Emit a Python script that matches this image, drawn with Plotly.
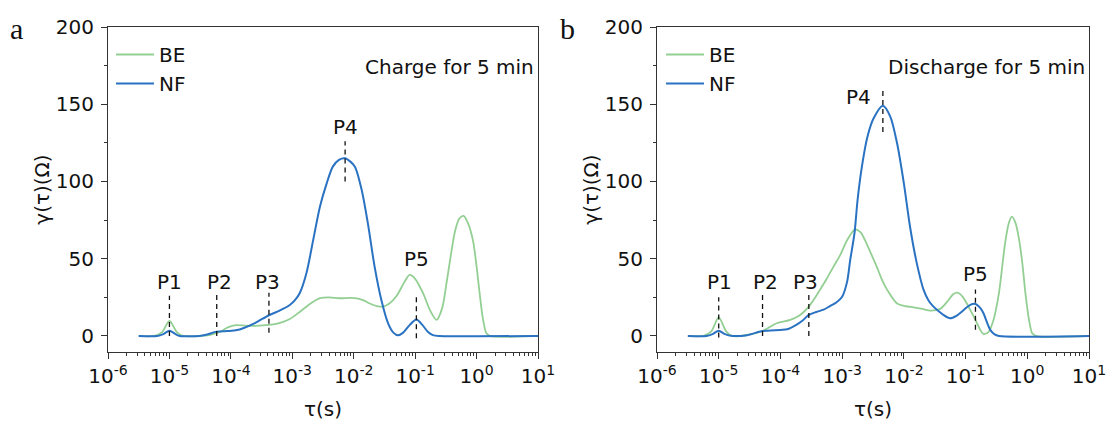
import numpy as np
import plotly.graph_objects as go
from plotly.subplots import make_subplots

# ---- data: log10(tau / s) and gamma(tau) in Ohm ----
# panel a : charge for 5 min
a_be_logtau = [-5.5, -5.25, -5.12, -5.0, -4.88, -4.78, -4.5, -4.35, -4.2, -4.05, -3.92, -3.75,
               -3.6, -3.38, -3.2, -3.04, -2.88, -2.72, -2.55, -2.4, -2.23, -2.05, -1.95, -1.84,
               -1.74, -1.62, -1.52, -1.42, -1.3, -1.18, -1.09, -1.0, -0.87, -0.75, -0.65, -0.56,
               -0.49, -0.42, -0.35, -0.28, -0.21, -0.14, -0.06, 0.0, 0.05, 0.1, 0.16, 0.22, 1.0]
a_be_gamma = [0, 0, 2.5, 9.7, 2.5, 0, 0, 0.6, 2.2, 5.5, 7, 6.6,
              6.5, 7.1, 8.5, 11, 15.5, 20.5, 24.5, 25, 24.4, 24.6, 24.3, 23,
              21, 19.3, 19, 21, 26, 34.5, 39.5, 37, 27.6, 16, 10.4, 18,
              34, 52, 68, 76, 77.7, 73, 62, 45, 27.6, 12, 1.7, 0, 0]

a_nf_logtau = [-5.5, -5.2, -5.1, -5.0, -4.9, -4.83, -4.51, -4.4, -4.23, -4.05, -3.9, -3.8,
               -3.6, -3.38, -3.2, -3.04, -2.95, -2.88, -2.77, -2.66, -2.55, -2.44, -2.34, -2.24,
               -2.14, -2.06, -1.98, -1.87, -1.77, -1.66, -1.55, -1.44, -1.35, -1.28, -1.2, -1.09,
               -0.98, -0.88, -0.79, -0.71, -0.6, 1.0]
a_nf_gamma = [0, 0, 1.2, 3.4, 1.2, 0, 0, 0.8, 2.8, 3.2, 3.8, 5,
              8.5, 13.4, 16.5, 20, 23.5, 27.6, 40.6, 62, 83.7, 98.8, 109.6, 114,
              115, 113, 109.6, 94.5, 73, 44.9, 23.3, 8.2, 2, 0.4, 2, 7,
              10.6, 7, 2.5, 0.5, 0, 0]

# panel b : discharge for 5 min
b_be_logtau = [-5.5, -5.25, -5.12, -5.0, -4.88, -4.78, -4.54, -4.29, -4.06, -3.84, -3.7, -3.54,
               -3.45, -3.36, -3.25, -3.14, -3.03, -2.92, -2.79, -2.7, -2.63, -2.54, -2.44, -2.35,
               -2.27, -2.11, -1.98, -1.84, -1.7, -1.57, -1.41, -1.3, -1.2, -1.13, -1.05, -0.98,
               -0.9, -0.84, -0.77, -0.71, -0.63, -0.55, -0.46, -0.36, -0.3, -0.25, -0.19, -0.14,
               -0.08, -0.03, 0.03, 0.08, 0.14, 1.0]
b_be_gamma = [0, 0, 3, 12, 3, 0, 0.6, 3.2, 8.2, 10.4, 13, 19,
              24, 29.8, 37, 44.9, 52.5, 62, 69, 67, 62, 54, 44.9, 36,
              29.8, 21, 19.3, 18.5, 17.5, 16.4, 17.5, 22, 27, 28, 25.5, 21,
              15, 10.4, 4.5, 1.3, 2.5, 10, 27.6, 60, 73, 77.2, 73, 64,
              47, 27.6, 10, 1.7, 0, 0]

b_nf_logtau = [-5.5, -5.2, -5.1, -5.0, -4.9, -4.78, -4.54, -4.29, -4.0, -3.89, -3.75, -3.64,
               -3.54, -3.42, -3.3, -3.19, -3.1, -3.0, -2.92, -2.87, -2.8, -2.75, -2.68, -2.59,
               -2.49, -2.34, -2.22, -2.11, -2.0, -1.9, -1.79, -1.68, -1.6, -1.52, -1.42, -1.36,
               -1.25, -1.15, -1.03, -0.93, -0.84, -0.76, -0.71, -0.65, -0.6, -0.53, -0.46, 1.0]
b_nf_gamma = [0, 0, 1.2, 3.4, 1.2, 0, 0.5, 3.2, 3.9, 4.3, 7, 10,
              13.6, 15.5, 17, 19.5, 21.5, 25.4, 35, 49, 66.5, 88, 109.6, 129,
              140.9, 149, 142, 124.7, 98.8, 70.7, 47, 29.8, 23, 19, 15.5, 13.6,
              11.4, 13, 16.8, 20, 20.7, 18, 14.7, 8.5, 3.9, 1, 0, 0]

# peak markers: label, log10(tau), dashed line from / to (Ohm), label height (Ohm)
peak_labels = ["P1", "P2", "P3", "P4", "P5"]
a_peak_logtau = [-5.0, -4.23, -3.38, -2.14, -0.98]
a_peak_lo = [0, 0, 2, 100, -1.5]
a_peak_hi = [26, 27, 28, 126, 25]
a_label_logtau = [-5.0, -4.19, -3.4, -2.14, -0.97]
a_label_gamma = [35, 35, 35, 135, 50]

b_peak_logtau = [-5.0, -4.29, -3.54, -2.34, -0.84]
b_peak_lo = [-1, 0, 0, 132, 4]
b_peak_hi = [25, 27, 28, 159, 30]
b_label_logtau = [-4.99, -4.25, -3.6, -2.73, -0.84]
b_label_gamma = [35, 35, 35, 155, 40]

conditions = ["Charge for 5 min", "Discharge for 5 min"]
panel_letters = ["a", "b"]

BE_COLOR = "#93cf93"
NF_COLOR = "#2a72c2"
AXIS_COLOR = "#333333"
FONT = "DejaVu Sans"
FS = 20

fig = make_subplots(rows=1, cols=2)

panels = [
    (a_be_logtau, a_be_gamma, a_nf_logtau, a_nf_gamma, a_peak_logtau, a_peak_lo, a_peak_hi,
     a_label_logtau, a_label_gamma, "legend"),
    (b_be_logtau, b_be_gamma, b_nf_logtau, b_nf_gamma, b_peak_logtau, b_peak_lo, b_peak_hi,
     b_label_logtau, b_label_gamma, "legend2"),
]

for i, (be_x, be_y, nf_x, nf_y, pk_x, pk_lo, pk_hi, lb_x, lb_y, leg) in enumerate(panels):
    col = i + 1
    fig.add_trace(go.Scatter(x=10 ** np.array(be_x), y=be_y, mode="lines", name="BE",
                             line=dict(color=BE_COLOR, width=1.8, shape="spline", smoothing=0.8),
                             legend=leg), row=1, col=col)
    fig.add_trace(go.Scatter(x=10 ** np.array(nf_x), y=nf_y, mode="lines", name="NF",
                             line=dict(color=NF_COLOR, width=2, shape="spline", smoothing=0.8),
                             legend=leg), row=1, col=col)
    # dashed peak markers
    for px_, lo, hi in zip(pk_x, pk_lo, pk_hi):
        fig.add_trace(go.Scatter(x=[10 ** px_, 10 ** px_], y=[lo, hi], mode="lines",
                                 line=dict(color="#111111", width=1.3, dash="5px,4px"),
                                 showlegend=False, hoverinfo="skip"), row=1, col=col)
    xref = "x" if col == 1 else "x2"
    yref = "y" if col == 1 else "y2"
    for lab, lx, ly in zip(peak_labels, lb_x, lb_y):
        fig.add_annotation(x=lx, y=ly, xref=xref, yref=yref, text=lab, showarrow=False,
                           font=dict(family=FONT, size=FS, color="#111111"))
    fig.add_annotation(x=0.995, y=174, xref=f"{xref} domain", yref=yref, text=conditions[i],
                       showarrow=False, xanchor="right", yanchor="middle",
                       font=dict(family=FONT, size=FS, color="#111111"))

x_ticks = [10.0 ** e for e in range(-6, 2)]
x_text = [f"10<sup>{e}</sup>" for e in range(-6, 2)]
x_minor = [k * 10.0 ** e for e in range(-6, 1) for k in range(2, 10)]

axis_common = dict(showline=True, linecolor=AXIS_COLOR, linewidth=1.2, mirror=True,
                   ticks="outside", tickcolor=AXIS_COLOR, tickwidth=1.2, ticklen=6,
                   showgrid=False, zeroline=False, automargin=False,
                   tickfont=dict(family=FONT, size=FS, color="#111111"))

x_domains = [[108 / 1107, 538 / 1107], [657 / 1107, 1089 / 1107]]
y_domain = [1 - 352 / 423, 1 - 27 / 423]

for i in range(2):
    suffix = "" if i == 0 else "2"
    fig.update_layout(**{
        f"xaxis{suffix}": dict(axis_common, type="log", range=[-6, 1], domain=x_domains[i],
                               tickvals=x_ticks, ticktext=x_text,
                               minor=dict(tickvals=x_minor, ticks="outside", ticklen=3,
                                          tickcolor=AXIS_COLOR, tickwidth=1),
                               title=dict(text="τ(s)", standoff=14,
                                          font=dict(family=FONT, size=FS, color="#111111"))),
        f"yaxis{suffix}": dict(axis_common, range=[-10.4, 200], domain=y_domain,
                               tickvals=[0, 50, 100, 150, 200], ticklabelstandoff=3,
                               minor=dict(dtick=25, ticks="outside", ticklen=3,
                                          tickcolor=AXIS_COLOR, tickwidth=1),
                               title=dict(text="γ(τ)(Ω)", standoff=0,
                                          font=dict(family=FONT, size=FS, color="#111111"))),
    })

for i, letter in enumerate(panel_letters):
    fig.add_annotation(x=[16, 567][i] / 1107, y=1 - 29 / 423, xref="paper", yref="paper",
                       text=letter, showarrow=False, xanchor="center", yanchor="middle",
                       font=dict(family="Liberation Serif", size=30, color="#111111"))

legend_style = dict(xanchor="left", yanchor="top", bgcolor="rgba(0,0,0,0)", borderwidth=0,
                    font=dict(family=FONT, size=FS, color="#111111"), itemwidth=38,
                    tracegroupgap=0)

fig.update_layout(
    width=1107, height=423,
    margin=dict(l=0, r=0, t=0, b=0, autoexpand=False),
    paper_bgcolor="white", plot_bgcolor="white",
    legend=dict(legend_style, x=111 / 1107, y=1 - 35 / 423),
    legend2=dict(legend_style, x=661 / 1107, y=1 - 35 / 423),
    font=dict(family=FONT, size=FS, color="#111111"),
)

# the page body margin would shift the figure; pin it to the window corner
fig.write_html("out.html", config={"displayModeBar": False},
               post_script="document.body.style.margin='0px';")
